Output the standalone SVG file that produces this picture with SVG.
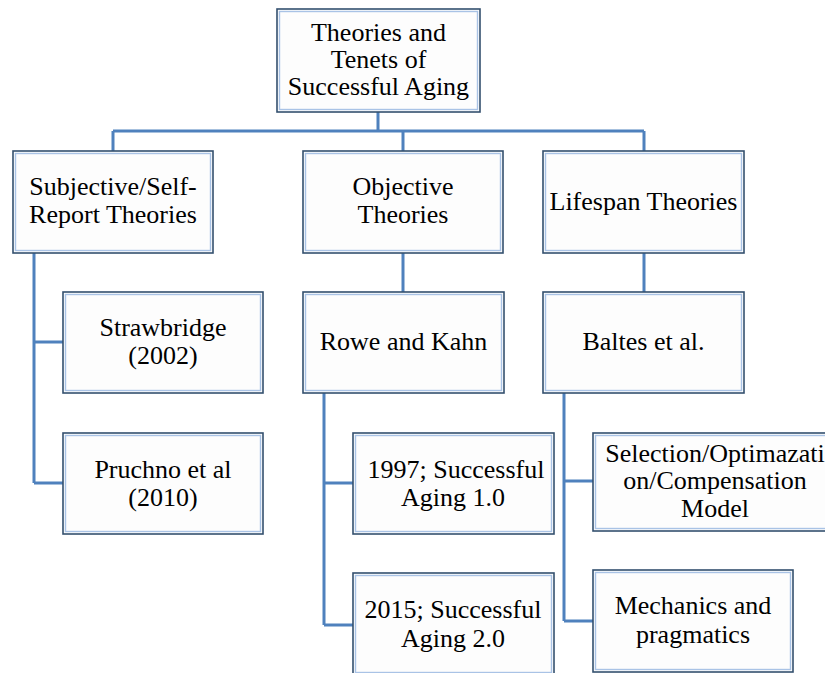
<svg xmlns="http://www.w3.org/2000/svg" width="825" height="673" viewBox="0 0 825 673">
<style>
.box{fill:#fdfdfd;stroke:#34506f;stroke-width:1.6}
.inner{fill:none;stroke:#a9c3e6;stroke-width:1.4}
.t{font-family:"Liberation Serif","Times New Roman",serif;font-size:26px;fill:#000;text-anchor:middle}
.c{fill:none;stroke:#4f81bd;stroke-width:3}
</style>
<rect width="825" height="673" fill="#ffffff"/>
<g id="connectors">
<path class="c" d="M378,112V131M113,131H644M113,131V151M403,131V151M644,131V151"/>
<path class="c" d="M34,253V483M34,342H63M34,483H63"/>
<path class="c" d="M403,253V292M324,393V625M324,483H353M324,625H353"/>
<path class="c" d="M644,253V292M564,393V621M564,481H593M564,621H593"/>
</g>
<g id="n-root"><rect class="box" x="277" y="9" width="203" height="103"/><rect class="inner" x="279.5" y="11.5" width="198" height="98"/>
<text class="t" x="378.5" y="41">Theories and</text><text class="t" x="378.5" y="68">Tenets of</text><text class="t" x="378.5" y="95">Successful Aging</text></g>
<g id="n-subjective"><rect class="box" x="13" y="151" width="200" height="102"/><rect class="inner" x="15.5" y="153.5" width="195" height="97"/>
<text class="t" x="113" y="195">Subjective/Self-</text><text class="t" x="113" y="223">Report Theories</text></g>
<g id="n-objective"><rect class="box" x="303" y="151" width="200" height="102"/><rect class="inner" x="305.5" y="153.5" width="195" height="97"/>
<text class="t" x="403" y="195">Objective</text><text class="t" x="403" y="223">Theories</text></g>
<g id="n-lifespan"><rect class="box" x="543" y="151" width="201" height="102"/><rect class="inner" x="545.5" y="153.5" width="196" height="97"/>
<text class="t" x="643.5" y="210">Lifespan Theories</text></g>
<g id="n-strawbridge"><rect class="box" x="63" y="292" width="200" height="101"/><rect class="inner" x="65.5" y="294.5" width="195" height="96"/>
<text class="t" x="163" y="336">Strawbridge</text><text class="t" x="163" y="364">(2002)</text></g>
<g id="n-pruchno"><rect class="box" x="63" y="433" width="200" height="101"/><rect class="inner" x="65.5" y="435.5" width="195" height="96"/>
<text class="t" x="163" y="478">Pruchno et al</text><text class="t" x="163" y="506">(2010)</text></g>
<g id="n-rowe"><rect class="box" x="303" y="292" width="201" height="101"/><rect class="inner" x="305.5" y="294.5" width="196" height="96"/>
<text class="t" x="403.5" y="350">Rowe and Kahn</text></g>
<g id="n-1997"><rect class="box" x="353" y="433" width="201" height="101"/><rect class="inner" x="355.5" y="435.5" width="196" height="96"/>
<text class="t" x="456" y="478">1997; Successful</text><text class="t" x="453" y="506">Aging 1.0</text></g>
<g id="n-2015"><rect class="box" x="353" y="573" width="201" height="102"/><rect class="inner" x="355.5" y="575.5" width="196" height="97"/>
<text class="t" x="453" y="618">2015; Successful</text><text class="t" x="453" y="647">Aging 2.0</text></g>
<g id="n-baltes"><rect class="box" x="543" y="292" width="201" height="101"/><rect class="inner" x="545.5" y="294.5" width="196" height="96"/>
<text class="t" x="643.5" y="350">Baltes et al.</text></g>
<g id="n-soc"><rect class="box" x="593" y="433" width="244" height="98"/><rect class="inner" x="595.5" y="435.5" width="239" height="93"/>
<text class="t" x="715" y="462">Selection/Optimazati</text><text class="t" x="715" y="489">on/Compensation</text><text class="t" x="715" y="517">Model</text></g>
<g id="n-mechanics"><rect class="box" x="593" y="570" width="200" height="102"/><rect class="inner" x="595.5" y="572.5" width="195" height="97"/>
<text class="t" x="693" y="614">Mechanics and</text><text class="t" x="693" y="643">pragmatics</text></g>
</svg>
